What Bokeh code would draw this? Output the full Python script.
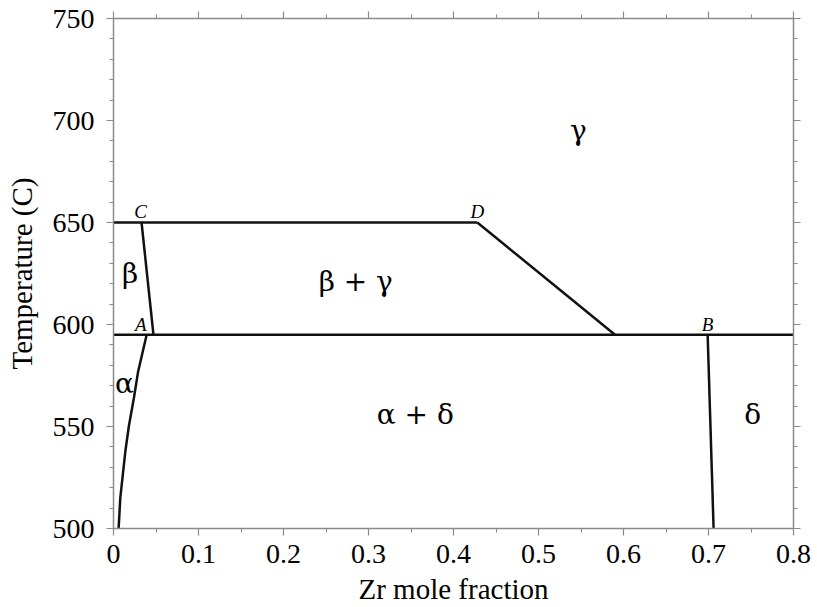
from bokeh.plotting import figure
from bokeh.models import LinearAxis, FixedTicker, Range1d
from bokeh.core.properties import value
from bokeh.embed import file_html
from bokeh.resources import INLINE
import numpy as np

# ---- data ----
x_ticks = [0, 0.1, 0.2, 0.3, 0.4, 0.5, 0.6, 0.7, 0.8]
y_ticks = [500, 550, 600, 650, 700, 750]

upper_x = [0.0, 0.428]
upper_y = [650, 650]
dg_x = [0.428, 0.590]
dg_y = [650, 595]
eut_x = [0.0, 0.8]
eut_y = [595, 595]
beta_x = [0.033, 0.047]
beta_y = [650, 595]
alpha_x = [0.006, 0.008, 0.014, 0.018, 0.024, 0.029, 0.039]
alpha_y = [500, 515, 538, 550, 564, 577, 595]
delta_x = [0.699, 0.706]
delta_y = [595, 500]

phase_labels = ["γ", "β + γ", "β", "α", "α + δ", "δ"]
phase_x = [0.547, 0.285, 0.0194, 0.013, 0.355, 0.752]
phase_y = [695, 621, 625, 571, 556, 556]

point_labels = ["C", "D", "A", "B"]
point_x = [0.032, 0.428, 0.032, 0.699]
point_y = [655.5, 655.5, 600, 600]

FONT = "Liberation Serif"
GREEK_FONT = "DejaVu Serif"
AXIS_GRAY = "#8a8a8a"

p = figure(width=817, height=607, output_backend="svg", toolbar_location=None,
           x_range=Range1d(0, 0.8), y_range=Range1d(500, 750),
           min_border_left=113, min_border_right=24, min_border_top=18, min_border_bottom=77)
p.outline_line_color = None
p.grid.visible = False
p.background_fill_color = "white"
p.border_fill_color = "white"

x_minor = [round(v, 3) for v in np.arange(0, 0.8001, 0.05)]
y_minor = list(range(500, 751, 10))

def style_axis(ax, ticks, minor, show_labels):
    ax.ticker = FixedTicker(ticks=ticks, minor_ticks=minor)
    ax.axis_line_color = AXIS_GRAY
    ax.axis_line_width = 1.5
    ax.major_tick_line_color = AXIS_GRAY
    ax.minor_tick_line_color = AXIS_GRAY
    ax.major_tick_line_width = 1.2
    ax.minor_tick_line_width = 1.0
    ax.major_tick_in = 0
    ax.major_tick_out = 7
    ax.minor_tick_in = 0
    ax.minor_tick_out = 4
    ax.major_label_text_font = FONT
    ax.major_label_text_font_size = "28px"
    ax.major_label_text_color = "black" if show_labels else None
    ax.axis_label_text_font = FONT
    ax.axis_label_text_font_size = "29px"
    ax.axis_label_text_font_style = "normal"
    ax.axis_label_text_color = "black"

xa = p.xaxis[0]
ya = p.yaxis[0]
style_axis(xa, x_ticks, x_minor, True)
style_axis(ya, y_ticks, y_minor, True)
xa.axis_label = "Zr mole fraction"
ya.axis_label = "Temperature (C)"
xa.major_label_overrides = {0: "0"}
xa.major_label_standoff = 9
ya.major_label_standoff = 12
xa.axis_label_standoff = 7
ya.axis_label_standoff = 12

top = LinearAxis()
style_axis(top, x_ticks, x_minor, False)
top.major_label_text_font_size = "0px"
p.add_layout(top, "above")
right = LinearAxis()
style_axis(right, y_ticks, y_minor, False)
right.major_label_text_font_size = "0px"
p.add_layout(right, "right")

LW = 2.5
for xs, ys in [(upper_x, upper_y), (dg_x, dg_y), (eut_x, eut_y), (beta_x, beta_y),
               (alpha_x, alpha_y), (delta_x, delta_y)]:
    p.line(xs, ys, line_color="#111111", line_width=LW)

p.text(x=phase_x, y=phase_y, text=phase_labels, text_font=value(GREEK_FONT),
       text_font_size="28px", text_align="center", text_baseline="middle", text_color="black")
p.text(x=point_x, y=point_y, text=point_labels, text_font=value(FONT),
       text_font_size="19px", text_font_style="italic", text_align="center",
       text_baseline="middle", text_color="black")

open("out.html", "w").write(file_html(p, INLINE))
